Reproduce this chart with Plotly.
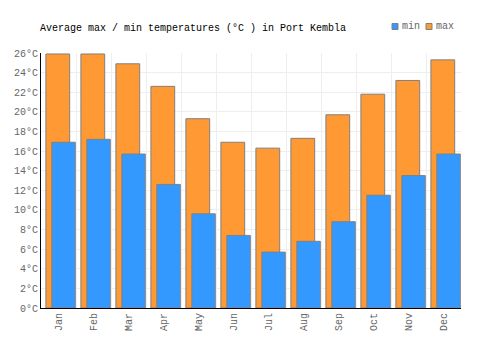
import plotly.graph_objects as go

months = ["Jan", "Feb", "Mar", "Apr", "May", "Jun", "Jul", "Aug", "Sep", "Oct", "Nov", "Dec"]
max_temp = [25.9, 25.9, 24.9, 22.6, 19.3, 16.9, 16.3, 17.3, 19.7, 21.8, 23.2, 25.3]
min_temp = [16.9, 17.2, 15.7, 12.6, 9.6, 7.4, 5.7, 6.8, 8.8, 11.5, 13.5, 15.7]

FONT = "Liberation Mono"
BLUE = "#3399ff"
ORANGE = "#ff9933"
EDGE = "#808080"

fig = go.Figure()
fig.add_trace(go.Bar(x=months, y=max_temp, name="max", marker=dict(color=ORANGE, line=dict(color=EDGE, width=1)),
                     offset=-0.36, width=0.68, showlegend=False))
fig.add_trace(go.Bar(x=months, y=min_temp, name="min", marker=dict(color=BLUE, line=dict(color=EDGE, width=1)),
                     offset=-0.19, width=0.67, showlegend=False))

fig.update_layout(
    width=500, height=350,
    margin=dict(l=41, r=39, t=53, b=42),
    barmode="overlay",
    paper_bgcolor="white", plot_bgcolor="white",
    font=dict(family=FONT, size=10, color="#666666"),
    title=dict(text="Average max / min temperatures (°C ) in Port Kembla", x=40/500, xanchor="left",
               y=1 - 27/350, yanchor="middle", font=dict(family=FONT, size=10, color="#000000")),
    xaxis=dict(type="category", tickson="boundaries", showgrid=True, gridcolor="#eeeeee", gridwidth=1,
               tickangle=-90, ticks="", showline=True, linecolor="#000000", linewidth=1,
               range=[-0.5, 11.5], tickfont=dict(family=FONT, size=10, color="#666666")),
    yaxis=dict(range=[0, 26], dtick=2, ticksuffix="°C", showgrid=True, gridcolor="#eeeeee", gridwidth=1,
               showline=True, linecolor="#000000", linewidth=1, ticks="", zeroline=False,
               tickfont=dict(family=FONT, size=10, color="#666666")),
    shapes=[
        dict(type="rect", xref="paper", yref="paper", x0=(392-41)/420, x1=(398-41)/420,
             y0=(350-42-23.5)/255, y1=(350-42-29.5)/255, fillcolor=BLUE, line=dict(color=EDGE, width=1)),
        dict(type="rect", xref="paper", yref="paper", x0=(426-41)/420, x1=(432-41)/420,
             y0=(350-42-23.5)/255, y1=(350-42-29.5)/255, fillcolor=ORANGE, line=dict(color=EDGE, width=1)),
    ],
    annotations=[
        dict(text="min", xref="paper", yref="paper", x=(400-41)/420, y=(350-42-27)/255,
             xanchor="left", yanchor="middle", showarrow=False, font=dict(family=FONT, size=10, color="#666666")),
        dict(text="max", xref="paper", yref="paper", x=(434-41)/420, y=(350-42-27)/255,
             xanchor="left", yanchor="middle", showarrow=False, font=dict(family=FONT, size=10, color="#666666")),
    ],
)

fig.write_html("out.html")
